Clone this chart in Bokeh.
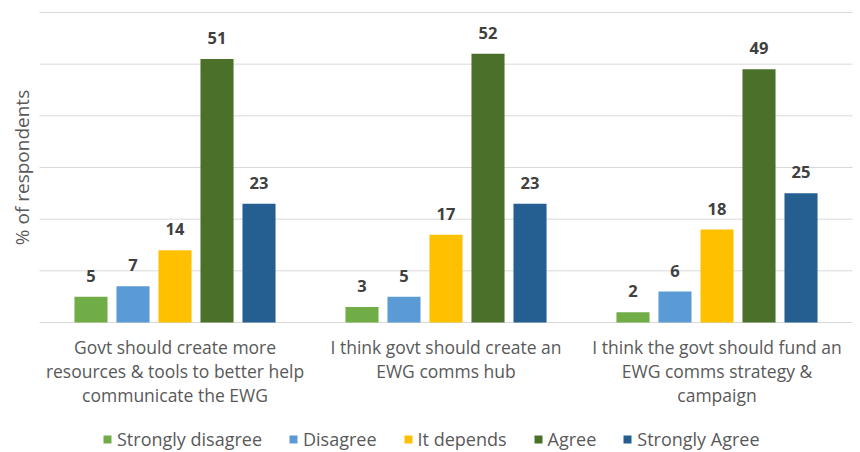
import math
from bokeh.plotting import figure
from bokeh.models import ColumnDataSource, Range1d, Legend, LegendItem, Label
from bokeh.transform import dodge
from bokeh.core.properties import value
from bokeh.embed import file_html
from bokeh.resources import INLINE

categories = [
    "Govt should create more\nresources & tools to better help\ncommunicate the EWG",
    "I think govt should create an\nEWG comms hub",
    "I think the govt should fund an\nEWG comms strategy &\ncampaign",
]
series = ["Strongly disagree", "Disagree", "It depends", "Agree", "Strongly Agree"]
strongly_disagree = [5, 3, 2]
disagree = [7, 5, 6]
it_depends = [14, 17, 18]
agree = [51, 52, 49]
strongly_agree = [23, 23, 25]
values = [strongly_disagree, disagree, it_depends, agree, strongly_agree]
colors = ["#70AD47", "#5B9BD5", "#FFC000", "#4A7029", "#255E91"]
y_ticks = [0, 10, 20, 30, 40, 50, 60]
y_title = "% of respondents"

FONT = "Open Sans"
W, H = 860, 452
# layout (pixels): plot area left/right, zero line and top gridline
PX_LEFT, PX_RIGHT, PX_ZERO, PX_TOP = 39, 852, 322, 12
n = len(categories)
cat_px = (PX_RIGHT - PX_LEFT) / n
y_px = (PX_ZERO - PX_TOP) / max(y_ticks)
x0 = -0.5 - PX_LEFT / cat_px
x1 = x0 + W / cat_px
ytop = max(y_ticks) + PX_TOP / y_px
ybot = -(H - PX_ZERO) / y_px

p = figure(width=W, height=H, output_backend="svg", toolbar_location=None,
           x_range=Range1d(x0, x1), y_range=Range1d(ybot, ytop),
           x_axis_location=None, y_axis_location=None)
p.min_border = 0
p.outline_line_color = None
p.background_fill_color = "white"
p.xgrid.visible = False
p.ygrid.visible = False

# gridlines from the y ticks
p.segment(x0=[-0.5] * len(y_ticks), x1=[n - 0.5] * len(y_ticks),
          y0=y_ticks, y1=y_ticks, line_color="#D9D9D9", line_width=1)

xs = list(range(n))
step = 0.155
width = 0.122
items = []
for i, (name, vals, col) in enumerate(zip(series, values, colors)):
    off = (i - 2) * step
    src = ColumnDataSource(dict(x=xs, y=vals, lab=[str(v) for v in vals]))
    r = p.vbar(x=dodge("x", off, range=p.x_range), top="y", width=width, bottom=0,
               source=src, fill_color=col, line_color=None)
    p.text(x=dodge("x", off, range=p.x_range), y="y", text="lab", source=src,
           text_align="center", text_baseline="bottom", y_offset=-15,
           text_font=value(FONT), text_font_size="16.5px", text_font_style="bold",
           text_color="#404040")
    items.append(LegendItem(label=name, renderers=[r]))

# category labels under the zero line
csrc = ColumnDataSource(dict(x=xs, y=[0] * n, t=categories))
p.text(x="x", y="y", text="t", source=csrc, text_align="center",
       text_baseline="top", y_offset=12, text_font=value(FONT),
       text_font_size="17.5px", text_color="#595959", text_line_height=1.0)

# y-axis title
p.add_layout(Label(x=21, y=H - (PX_TOP + PX_ZERO) / 2, x_units="screen", y_units="screen",
                   text=y_title, angle=math.pi / 2, text_align="center",
                   text_baseline="middle", text_font=FONT, text_font_size="19px",
                   text_color="#595959"))

legend = Legend(items=items, orientation="horizontal", location=(102, 1),
                label_text_font=FONT, label_text_font_size="18px",
                label_text_color="#595959", glyph_width=10, glyph_height=10,
                spacing=26, label_standoff=5, border_line_color=None,
                background_fill_alpha=0, padding=3, margin=0)
p.add_layout(legend, "center")

open("out.html", "w").write(file_html(p, INLINE))
